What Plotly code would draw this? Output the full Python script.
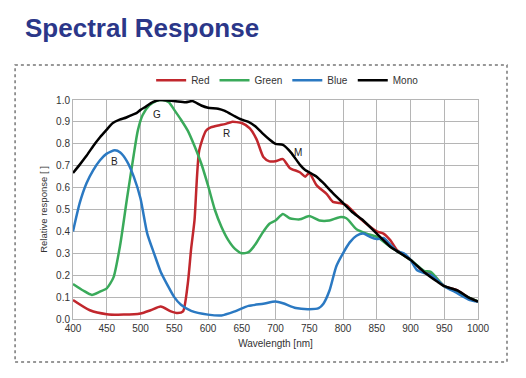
import plotly.graph_objects as go

# Wavelength samples (nm) and relative responses
red_x = [400, 425, 450, 475, 500, 515, 530, 545, 555, 563, 570, 575, 580, 587, 597, 604, 610, 617, 625, 635, 650, 662, 672, 682, 691, 700, 711, 721, 736, 744, 750, 761, 776, 785, 795, 805, 825, 850, 860, 870, 880, 900, 920, 930, 950, 970, 985, 1000]
red_y = [0.087, 0.04, 0.022, 0.02, 0.025, 0.04, 0.057, 0.035, 0.027, 0.035, 0.16, 0.32, 0.45, 0.77, 0.86, 0.875, 0.88, 0.885, 0.89, 0.90, 0.895, 0.87, 0.82, 0.74, 0.72, 0.72, 0.73, 0.69, 0.67, 0.65, 0.667, 0.61, 0.57, 0.535, 0.53, 0.52, 0.46, 0.40, 0.39, 0.36, 0.315, 0.27, 0.215, 0.21, 0.15, 0.13, 0.10, 0.08]

green_x = [400, 415, 428, 440, 450, 460, 470, 480, 490, 496, 503, 513, 523, 533, 542, 550, 560, 570, 580, 590, 600, 610, 620, 630, 640, 650, 660, 670, 680, 691, 700, 711, 721, 736, 750, 765, 780, 795, 805, 820, 835, 850, 870, 880, 900, 920, 930, 950, 970, 985, 1000]
green_y = [0.16, 0.13, 0.11, 0.125, 0.14, 0.19, 0.34, 0.55, 0.75, 0.86, 0.93, 0.975, 0.995, 1.0, 0.99, 0.955, 0.91, 0.86, 0.79, 0.71, 0.61, 0.50, 0.42, 0.36, 0.32, 0.30, 0.305, 0.34, 0.39, 0.435, 0.45, 0.48, 0.46, 0.455, 0.47, 0.45, 0.45, 0.465, 0.46, 0.41, 0.39, 0.375, 0.33, 0.31, 0.27, 0.22, 0.215, 0.15, 0.125, 0.10, 0.08]

blue_x = [400, 410, 420, 430, 440, 450, 462, 470, 480, 490, 500, 510, 520, 530, 540, 550, 560, 575, 600, 620, 640, 660, 682, 700, 711, 730, 750, 764, 771, 780, 790, 800, 810, 820, 830, 840, 850, 860, 870, 880, 890, 900, 909, 920, 931, 950, 968, 988, 1000]
blue_y = [0.40, 0.53, 0.62, 0.68, 0.725, 0.755, 0.77, 0.76, 0.72, 0.65, 0.55, 0.39, 0.30, 0.215, 0.155, 0.10, 0.065, 0.037, 0.02, 0.016, 0.035, 0.06, 0.07, 0.08, 0.072, 0.05, 0.045, 0.05, 0.07, 0.13, 0.24, 0.30, 0.35, 0.38, 0.39, 0.375, 0.365, 0.37, 0.34, 0.31, 0.30, 0.27, 0.225, 0.21, 0.20, 0.15, 0.12, 0.087, 0.08]

mono_x = [400, 410, 420, 430, 440, 450, 459, 469, 479, 486, 494, 500, 508, 518, 528, 550, 567, 577, 590, 600, 615, 625, 640, 650, 660, 670, 680, 691, 700, 711, 723, 736, 744, 750, 761, 771, 785, 800, 815, 830, 850, 870, 880, 900, 920, 940, 950, 970, 985, 1000]
mono_y = [0.667, 0.705, 0.745, 0.79, 0.83, 0.865, 0.895, 0.91, 0.92, 0.93, 0.94, 0.955, 0.97, 0.99, 1.0, 0.995, 0.99, 0.995, 0.975, 0.965, 0.96, 0.95, 0.925, 0.91, 0.90, 0.88, 0.85, 0.82, 0.80, 0.795, 0.76, 0.705, 0.68, 0.67, 0.65, 0.62, 0.575, 0.53, 0.485, 0.45, 0.39, 0.33, 0.31, 0.27, 0.215, 0.17, 0.15, 0.13, 0.10, 0.08]

series = [
    ("Red", red_x, red_y, "#c1272d"),
    ("Green", green_x, green_y, "#3aaa5a"),
    ("Blue", blue_x, blue_y, "#2b79c2"),
    ("Mono", mono_x, mono_y, "#000000"),
]

curve_labels = ["B", "G", "R", "M"]
label_x = [461, 525, 628, 733]
label_y = [0.72, 0.936, 0.845, 0.76]

x_ticks = list(range(400, 1001, 50))
y_ticks = [i / 10 for i in range(11)]

fig = go.Figure()
for name, xs, ys, color in series:
    fig.add_trace(go.Scatter(x=xs, y=ys, name=name, mode="lines",
                             line=dict(color=color, width=2.5, shape="spline", smoothing=0.6)))

for t, x, y in zip(curve_labels, label_x, label_y):
    fig.add_annotation(x=x, y=y, text=t, showarrow=False,
                       font=dict(size=10, color="#222", family="Liberation Sans, Arial"))

fig.add_annotation(xref="paper", yref="paper", x=-0.1235, y=1.33, xanchor="left", yanchor="middle",
                   text="<b>Spectral Response</b>", showarrow=False,
                   font=dict(size=26, color="#2b3789", family="Liberation Sans, Arial"))

fig.add_shape(type="rect", xref="paper", yref="paper", x0=-0.143, x1=1.0716, y0=-0.196, y1=1.16,
              line=dict(color="#777", width=1.5, dash="dot"))

# page body has an 8px margin, so the figure is shrunk by 8px and margins shifted
fig.update_layout(
    width=518, height=370,
    margin=dict(l=65, r=48, t=92, b=59),
    paper_bgcolor="white", plot_bgcolor="white",
    font=dict(family="Liberation Sans, Arial", size=10, color="#333"),
    showlegend=True,
    legend=dict(orientation="h", x=0.53, xanchor="center", y=1.09, yanchor="middle",
                font=dict(size=10, color="#333"), itemwidth=30, tracegroupgap=0,
                bgcolor="rgba(0,0,0,0)"),
    xaxis=dict(range=[400, 1000], tickvals=x_ticks, showgrid=True, gridcolor="#b5b5b5", gridwidth=1,
               showline=True, linecolor="#b5b5b5", mirror=True, zeroline=False, ticks="",
               title=dict(text="Wavelength [nm]", font=dict(size=10, color="#333"), standoff=6),
               tickfont=dict(size=10, color="#333")),
    yaxis=dict(range=[0, 1.0], tickvals=y_ticks, tickformat=".1f", showgrid=True, gridcolor="#b5b5b5",
               gridwidth=1, showline=True, linecolor="#b5b5b5", mirror=True, zeroline=False, ticks="",
               title=dict(text="Relative response [ ]", font=dict(size=9.5, color="#333"), standoff=6),
               tickfont=dict(size=10, color="#333")),
)

fig.write_html("out.html")
